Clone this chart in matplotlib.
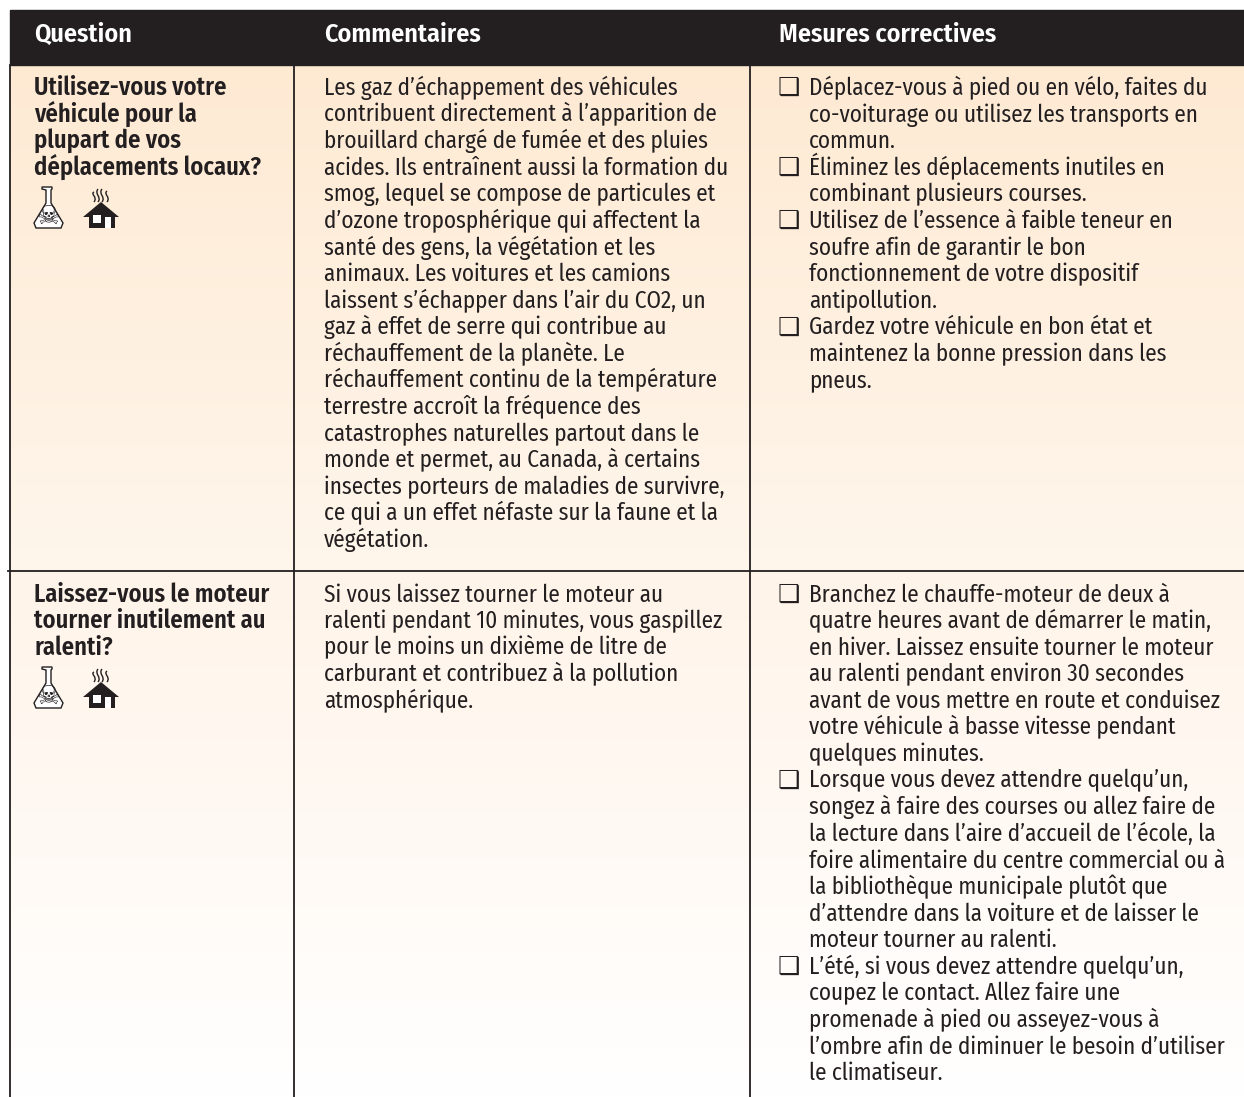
import numpy as np
import matplotlib
matplotlib.use("Agg")
import matplotlib.pyplot as plt
from matplotlib import font_manager as fm
from matplotlib.patches import Polygon, Rectangle, PathPatch
from matplotlib.path import Path
from matplotlib.textpath import TextPath

# narrow font with a real bold, first one found wins
names = {}
for f in fm.fontManager.ttflist:
    names.setdefault(f.name, set()).add(int(f.weight) if str(f.weight).isdigit() else 400)
BODY_FONT = "Roboto"
for cand in ["Fira Sans Condensed", "Roboto Condensed", "IBM Plex Sans Condensed",
             "Barlow Semi Condensed", "Encode Sans Semi Condensed"]:
    if cand in names and max(names[cand]) >= 600:
        BODY_FONT = cand
        break
HEAVY = 600

headers = ["Question", "Commentaires", "Mesures correctives"]

question_1 = ["Utilisez-vous votre", "véhicule pour la", "plupart de vos", "déplacements locaux?"]
question_2 = ["Laissez-vous le moteur", "tourner inutilement au", "ralenti?"]

comment_1 = [
    "Les gaz d’échappement des véhicules",
    "contribuent directement à l’apparition de",
    "brouillard chargé de fumée et des pluies",
    "acides. Ils entraînent aussi la formation du",
    "smog, lequel se compose de particules et",
    "d’ozone troposphérique qui affectent la",
    "santé des gens, la végétation et les",
    "animaux. Les voitures et les camions",
    "laissent s’échapper dans l’air du CO2, un",
    "gaz à effet de serre qui contribue au",
    "réchauffement de la planète. Le",
    "réchauffement continu de la température",
    "terrestre accroît la fréquence des",
    "catastrophes naturelles partout dans le",
    "monde et permet, au Canada, à certains",
    "insectes porteurs de maladies de survivre,",
    "ce qui a un effet néfaste sur la faune et la",
    "végétation.",
]
comment_2 = [
    "Si vous laissez tourner le moteur au",
    "ralenti pendant 10 minutes, vous gaspillez",
    "pour le moins un dixième de litre de",
    "carburant et contribuez à la pollution",
    "atmosphérique.",
]

# each bullet is a list of lines
measures_1 = [
    ["Déplacez-vous à pied ou en vélo, faites du", "co-voiturage ou utilisez les transports en", "commun."],
    ["Éliminez les déplacements inutiles en", "combinant plusieurs courses."],
    ["Utilisez de l’essence à faible teneur en", "soufre afin de garantir le bon",
     "fonctionnement de votre dispositif", "antipollution."],
    ["Gardez votre véhicule en bon état et", "maintenez la bonne pression dans les", "pneus."],
]
measures_2 = [
    ["Branchez le chauffe-moteur de deux à", "quatre heures avant de démarrer le matin,",
     "en hiver. Laissez ensuite tourner le moteur", "au ralenti pendant environ 30 secondes",
     "avant de vous mettre en route et conduisez", "votre véhicule à basse vitesse pendant",
     "quelques minutes."],
    ["Lorsque vous devez attendre quelqu’un,", "songez à faire des courses ou allez faire de",
     "la lecture dans l’aire d’accueil de l’école, la", "foire alimentaire du centre commercial ou à",
     "la bibliothèque municipale plutôt que", "d’attendre dans la voiture et de laisser le",
     "moteur tourner au ralenti."],
    ["L’été, si vous devez attendre quelqu’un,", "coupez le contact. Allez faire une",
     "promenade à pied ou asseyez-vous à", "l’ombre afin de diminuer le besoin d’utiliser",
     "le climatiseur."],
]

DARK = "#231f20"
W, H = 1244, 1097
LEAD = 26.6


def fit_size(s, width_px, weight):
    # font size (pt at dpi 100) that gives a line the width it has in the picture
    fp = fm.FontProperties(family=BODY_FONT, weight=weight)
    w = TextPath((0, 0), s, size=10, prop=fp).get_extents().width
    return 10 * width_px / w * 0.72


FS = fit_size("contribuent directement à l’apparition de", 392, "normal")
FS_BOLD = fit_size("déplacements locaux?", 225, HEAVY)
FS_HEAD = fit_size("Mesures correctives", 216, HEAVY)

fig = plt.figure(figsize=(W / 100, H / 100), dpi=100)
ax = fig.add_axes([0, 0, 1, 1])
ax.set_xlim(0, W)
ax.set_ylim(H, 0)
ax.axis("off")


def gradient(y0, y1, c0, c1):
    c0 = np.array(matplotlib.colors.to_rgb(c0))
    c1 = np.array(matplotlib.colors.to_rgb(c1))
    t = np.linspace(0, 1, 256)[:, None, None]
    img = c0[None, None, :] * (1 - t) + c1[None, None, :] * t
    ax.imshow(img, extent=[10, W, y1, y0], aspect="auto", zorder=0)


gradient(65, 571, "#feead3", "#fff6ec")
gradient(571, H, "#fff4e9", "#ffffff")
ax.set_xlim(0, W)
ax.set_ylim(H, 0)

# header band
ax.add_patch(Rectangle((10, 10), W - 10, 55, color=DARK, zorder=1))
for x, h in zip([34, 324, 779], headers):
    ax.text(x, 42, h, color="white", fontsize=FS_HEAD, weight=HEAVY, family=BODY_FONT,
            va="baseline", zorder=3)

# rules
ax.plot([10, 10], [65, H], color=DARK, lw=1.3, zorder=2)
ax.plot([294, 294], [65, H], color=DARK, lw=1.3, zorder=2)
ax.plot([750, 750], [65, H], color=DARK, lw=1.3, zorder=2)
ax.plot([8, W], [571, 571], color=DARK, lw=1.3, zorder=2)


def draw_lines(lines, x, y, size=None, **kw):
    for i, s in enumerate(lines):
        ax.text(x, y + i * LEAD, s, fontsize=size or FS, color=DARK, family=BODY_FONT,
                va="baseline", zorder=3, **kw)


def draw_bullets(bullets, y):
    n = 0
    for b in bullets:
        ax.text(788.5, y + n * LEAD, "\u2751", fontsize=18, color=DARK, family="DejaVu Sans",
                ha="center", va="baseline", zorder=3)
        draw_lines(b, 809, y + n * LEAD)
        n += len(b)


def flask(x0, y0):
    pts = [(9, 0), (19, 0), (19, 2), (18, 3), (18, 16), (30, 36), (28, 41), (3, 41), (1, 36),
           (13, 16), (13, 3), (9, 2)]
    pts = [(x0 + px, y0 + py) for px, py in pts]
    ax.add_patch(Polygon(pts, closed=True, fc="white", ec=DARK, lw=1.0, zorder=3))
    ax.text(x0 + 15.5, y0 + 29.5, "\u2620", fontsize=19, color=DARK, family="DejaVu Sans",
            ha="center", va="center", zorder=4)


def house(x0, y0):
    roof = [(18, 14), (36, 29), (32, 29), (32, 40), (6, 40), (6, 29), (0, 29)]
    ax.add_patch(Polygon([(x0 + px, y0 + py) for px, py in roof], closed=True, fc=DARK, ec="none", zorder=3))
    ax.add_patch(Rectangle((x0 + 10, y0 + 27), 8, 8, fc="white", ec="none", zorder=4))
    ax.add_patch(Rectangle((x0 + 22, y0 + 29), 6, 11, fc="white", ec="none", zorder=4))
    # smoke
    for dx, top in zip([11, 15, 19, 24], [4, 1, 1, 3]):
        verts = [(x0 + dx, y0 + top), (x0 + dx - 4, y0 + 6), (x0 + dx + 4, y0 + 9), (x0 + dx, y0 + 14)]
        ax.add_patch(PathPatch(Path(verts, [Path.MOVETO, Path.CURVE4, Path.CURVE4, Path.CURVE4]),
                               fc="none", ec=DARK, lw=1.0, zorder=3))


# row 1
draw_lines(question_1, 34, 95, size=FS_BOLD, weight=HEAVY)
flask(33, 187)
house(83, 188)
draw_lines(comment_1, 324, 95)
draw_bullets(measures_1, 95)

# row 2
draw_lines(question_2, 34, 601.5, size=FS_BOLD, weight=HEAVY)
flask(33, 667)
house(83, 668)
draw_lines(comment_2, 324, 601.5)
draw_bullets(measures_2, 601.5)

fig.savefig("out.png", dpi=100)
